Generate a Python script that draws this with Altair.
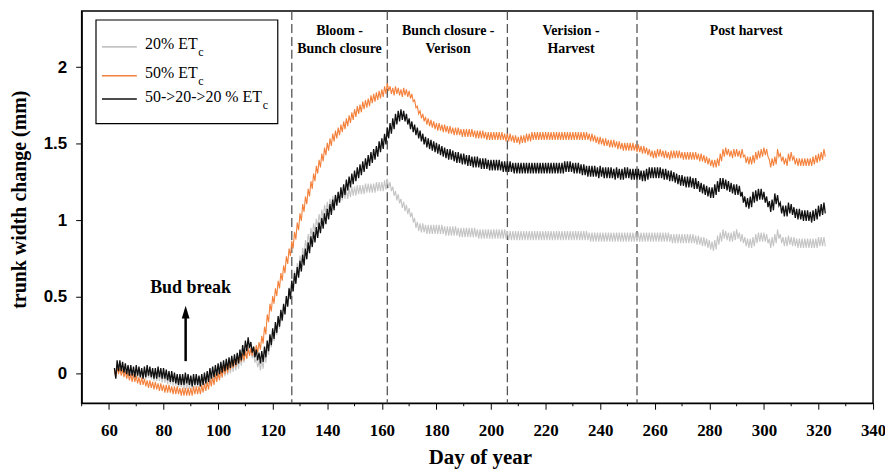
import altair as alt
import pandas as pd

# ---------------- data ----------------
days = list(range(62, 323))  # day of year, one daily mean per day

# 20% ETc (grey)
et20 = [
    0.00, 0.03, 0.03, 0.02, 0.01, 0.01, 0.00, 0.00, 0.00, 0.00,
    -0.01, -0.01, 0.00, -0.01, -0.02, -0.02, -0.02, -0.03, -0.03, -0.04,
    -0.04, -0.05, -0.05, -0.06, -0.06, -0.07, -0.07, -0.07, -0.07, -0.06,
    -0.06, -0.06, -0.05, -0.05, -0.04, -0.03, -0.02, -0.01, 0.00, 0.00,
    0.01, 0.02, 0.03, 0.04, 0.05, 0.06, 0.08, 0.10, 0.13, 0.16,
    0.13, 0.10, 0.07, 0.05, 0.06, 0.10, 0.15, 0.20, 0.24, 0.28,
    0.32, 0.37, 0.42, 0.47, 0.53, 0.58, 0.64, 0.69, 0.74, 0.79,
    0.84, 0.88, 0.92, 0.95, 0.98, 1.01, 1.04, 1.07, 1.09, 1.11,
    1.13, 1.14, 1.15, 1.16, 1.17, 1.17, 1.18, 1.19, 1.19, 1.20,
    1.20, 1.20, 1.21, 1.21, 1.21, 1.21, 1.22, 1.22, 1.22, 1.23,
    1.24, 1.22, 1.19, 1.16, 1.14, 1.11, 1.09, 1.07, 1.05, 1.02,
    0.98, 0.96, 0.95, 0.95, 0.94, 0.94, 0.94, 0.94, 0.94, 0.94,
    0.94, 0.93, 0.93, 0.93, 0.93, 0.93, 0.92, 0.92, 0.92, 0.92,
    0.92, 0.92, 0.92, 0.91, 0.91, 0.91, 0.91, 0.91, 0.91, 0.91,
    0.91, 0.91, 0.91, 0.91, 0.90, 0.90, 0.90, 0.90, 0.90, 0.90,
    0.90, 0.90, 0.90, 0.90, 0.90, 0.90, 0.90, 0.90, 0.90, 0.90,
    0.90, 0.90, 0.90, 0.90, 0.90, 0.90, 0.90, 0.90, 0.90, 0.90,
    0.90, 0.90, 0.90, 0.90, 0.89, 0.89, 0.89, 0.89, 0.89, 0.89,
    0.89, 0.89, 0.89, 0.89, 0.89, 0.89, 0.89, 0.89, 0.89, 0.89,
    0.89, 0.89, 0.89, 0.89, 0.89, 0.89, 0.89, 0.89, 0.89, 0.89,
    0.89, 0.89, 0.89, 0.89, 0.88, 0.88, 0.88, 0.88, 0.88, 0.88,
    0.88, 0.88, 0.88, 0.87, 0.87, 0.86, 0.86, 0.85, 0.84, 0.83,
    0.84, 0.87, 0.89, 0.91, 0.90, 0.89, 0.89, 0.90, 0.91, 0.89,
    0.88, 0.86, 0.85, 0.85, 0.86, 0.88, 0.89, 0.89, 0.89, 0.88,
    0.85, 0.86, 0.88, 0.91, 0.88, 0.86, 0.86, 0.87, 0.86, 0.86,
    0.85, 0.85, 0.85, 0.85, 0.85, 0.85, 0.85, 0.85, 0.86, 0.86,
    0.86,
]

# 50% ETc (orange)
et50 = [
    0.00, 0.02, 0.01, 0.00, -0.01, -0.02, -0.03, -0.03, -0.04, -0.05,
    -0.05, -0.06, -0.07, -0.07, -0.08, -0.08, -0.09, -0.09, -0.10, -0.10,
    -0.10, -0.11, -0.11, -0.11, -0.12, -0.12, -0.12, -0.12, -0.12, -0.11,
    -0.11, -0.11, -0.10, -0.09, -0.08, -0.06, -0.05, -0.03, -0.02, 0.00,
    0.02, 0.03, 0.05, 0.06, 0.07, 0.09, 0.10, 0.11, 0.12, 0.14,
    0.14, 0.15, 0.16, 0.18, 0.22, 0.28, 0.36, 0.43, 0.48, 0.53,
    0.58, 0.63, 0.68, 0.74, 0.79, 0.84, 0.90, 0.96, 1.02, 1.08,
    1.13, 1.18, 1.23, 1.28, 1.33, 1.37, 1.41, 1.45, 1.48, 1.51,
    1.54, 1.56, 1.58, 1.60, 1.62, 1.64, 1.66, 1.68, 1.70, 1.72,
    1.73, 1.75, 1.76, 1.77, 1.79, 1.80, 1.81, 1.82, 1.83, 1.85,
    1.87, 1.85, 1.84, 1.85, 1.84, 1.83, 1.84, 1.83, 1.82, 1.80,
    1.76, 1.72, 1.69, 1.67, 1.65, 1.64, 1.63, 1.62, 1.61, 1.61,
    1.60, 1.60, 1.59, 1.59, 1.58, 1.58, 1.58, 1.57, 1.57, 1.57,
    1.57, 1.57, 1.56, 1.56, 1.56, 1.56, 1.55, 1.55, 1.55, 1.55,
    1.55, 1.55, 1.55, 1.54, 1.54, 1.54, 1.53, 1.53, 1.52, 1.53,
    1.53, 1.54, 1.54, 1.55, 1.55, 1.55, 1.55, 1.55, 1.55, 1.55,
    1.55, 1.55, 1.55, 1.55, 1.55, 1.55, 1.55, 1.55, 1.55, 1.55,
    1.55, 1.55, 1.55, 1.55, 1.54, 1.54, 1.53, 1.52, 1.52, 1.51,
    1.51, 1.50, 1.50, 1.50, 1.49, 1.49, 1.48, 1.48, 1.48, 1.48,
    1.48, 1.47, 1.47, 1.46, 1.46, 1.45, 1.44, 1.43, 1.43, 1.44,
    1.44, 1.43, 1.43, 1.42, 1.43, 1.43, 1.43, 1.43, 1.42, 1.42,
    1.42, 1.42, 1.42, 1.42, 1.41, 1.41, 1.40, 1.39, 1.38, 1.37,
    1.37, 1.38, 1.41, 1.44, 1.45, 1.44, 1.43, 1.44, 1.44, 1.43,
    1.44, 1.40, 1.39, 1.39, 1.40, 1.42, 1.43, 1.44, 1.45, 1.44,
    1.37, 1.38, 1.39, 1.44, 1.41, 1.39, 1.38, 1.41, 1.42, 1.39,
    1.38, 1.38, 1.38, 1.38, 1.38, 1.38, 1.39, 1.40, 1.41, 1.42,
    1.44,
]

# 50->20->20 % ETc (black)
et_seq = [
    0.00, 0.05, 0.05, 0.04, 0.03, 0.02, 0.02, 0.01, 0.02, 0.01,
    0.00, 0.01, 0.02, 0.01, 0.00, 0.00, 0.01, 0.00, 0.00, -0.01,
    -0.02, -0.02, -0.03, -0.04, -0.04, -0.04, -0.03, -0.04, -0.05, -0.04,
    -0.04, -0.05, -0.04, -0.03, -0.02, 0.00, 0.01, 0.02, 0.03, 0.04,
    0.05, 0.06, 0.07, 0.08, 0.09, 0.10, 0.12, 0.15, 0.18, 0.20,
    0.17, 0.14, 0.12, 0.10, 0.11, 0.14, 0.18, 0.22, 0.26, 0.30,
    0.34, 0.38, 0.42, 0.47, 0.52, 0.57, 0.62, 0.66, 0.70, 0.74,
    0.78, 0.82, 0.86, 0.89, 0.92, 0.95, 0.98, 1.01, 1.04, 1.07,
    1.10, 1.13, 1.15, 1.18, 1.20, 1.23, 1.25, 1.27, 1.29, 1.31,
    1.33, 1.35, 1.37, 1.39, 1.41, 1.43, 1.45, 1.48, 1.50, 1.53,
    1.57, 1.60, 1.63, 1.66, 1.68, 1.69, 1.68, 1.66, 1.63, 1.61,
    1.59, 1.57, 1.55, 1.53, 1.51, 1.50, 1.49, 1.48, 1.47, 1.46,
    1.45, 1.44, 1.43, 1.43, 1.42, 1.41, 1.41, 1.40, 1.40, 1.39,
    1.39, 1.38, 1.38, 1.38, 1.37, 1.37, 1.37, 1.36, 1.36, 1.36,
    1.36, 1.36, 1.35, 1.35, 1.35, 1.35, 1.34, 1.34, 1.34, 1.34,
    1.34, 1.34, 1.34, 1.34, 1.34, 1.34, 1.34, 1.34, 1.34, 1.34,
    1.34, 1.34, 1.34, 1.34, 1.34, 1.35, 1.35, 1.35, 1.34, 1.34,
    1.34, 1.33, 1.33, 1.32, 1.32, 1.32, 1.32, 1.31, 1.32, 1.31,
    1.31, 1.31, 1.31, 1.30, 1.31, 1.30, 1.30, 1.31, 1.31, 1.30,
    1.30, 1.30, 1.30, 1.29, 1.29, 1.30, 1.31, 1.31, 1.31, 1.31,
    1.31, 1.30, 1.30, 1.29, 1.29, 1.28, 1.27, 1.26, 1.26, 1.25,
    1.25, 1.25, 1.24, 1.24, 1.22, 1.21, 1.20, 1.19, 1.18, 1.18,
    1.20, 1.22, 1.24, 1.24, 1.23, 1.22, 1.21, 1.20, 1.20, 1.19,
    1.15, 1.12, 1.11, 1.12, 1.15, 1.16, 1.17, 1.17, 1.15, 1.12,
    1.09, 1.10, 1.14, 1.13, 1.08, 1.06, 1.06, 1.08, 1.07, 1.05,
    1.04, 1.04, 1.03, 1.03, 1.03, 1.02, 1.03, 1.04, 1.06, 1.07,
    1.08,
]

series_names = ["20% ETc", "50% ETc", "50->20->20 % ETc"]
series_values = [et20, et50, et_seq]
# half-width of the daily (day/night) swing seen in each band
diurnal_swing = [0.03, 0.025, 0.035]
series_colors = ["#c4c4c4", "#f4813b", "#111111"]
series_widths = [1.1, 1.1, 1.3]

phase_days = [127, 162, 206, 253.5]
phase_label_days = [144.5, 184.3, 229.3, 293.5]
phase_labels = ["Bloom -\nBunch closure", "Bunch closure -\nVerison",
                "Verision -\nHarvest", "Post harvest"]

x_tick_values = list(range(60, 341, 20))
x_minor_ticks = list(range(50, 341, 20))
y_tick_values = [0, 0.5, 1, 1.5, 2]

bud_break_day = 88.1
bud_arrow_from, bud_arrow_to = 0.08, 0.40
bud_text_day, bud_text_v = 89.9, 0.56

for vals in series_values:
    assert len(vals) == len(days)

# ---------------- build tables ----------------
rows = []
for name, vals, sw in zip(series_names, series_values, diurnal_swing):
    for d, v in zip(days, vals):
        rows.append({"series": name, "day": d, "v": round(v + sw, 4)})
        rows.append({"series": name, "day": d + 0.5, "v": round(v - sw, 4)})
lines_df = pd.DataFrame(rows)

SERIF = "Liberation Serif"
SANS = "Liberation Sans"

W, H = 795, 394
x_scale = alt.Scale(domain=[50, 340], nice=False, zero=False)
y_scale = alt.Scale(domain=[-0.195, 2.366], nice=False, zero=False)

X = alt.X("day:Q", scale=x_scale, axis=alt.Axis(
    values=x_tick_values, title="Day of year", grid=False,
    tickSize=6, tickColor="black", domainColor="black", domainWidth=1.2,
    labelFont=SERIF, labelFontWeight="bold", labelFontSize=17, labelColor="black",
    labelPadding=13, labelFlush=False, labelOverlap=False,
    titleFont=SERIF, titleFontWeight="bold", titleFontSize=21, titleColor="black",
    titleX=400, titleY=44, titleBaseline="top"))
Y = alt.Y("v:Q", scale=y_scale, axis=alt.Axis(
    values=y_tick_values, format="~g", title="trunk width change (mm)", grid=False,
    tickSize=6, tickColor="black", domainColor="black", domainWidth=1.2,
    labelFont=SANS, labelFontWeight="bold", labelFontSize=17, labelColor="black",
    labelPadding=9,
    titleFont=SERIF, titleFontWeight="bold", titleFontSize=20, titleColor="black",
    titleX=-52, titleY=189, titleBaseline="bottom"))

layers = []

# dashed phase boundaries
layers.append(
    alt.Chart(pd.DataFrame({"day": phase_days}))
    .mark_rule(color="#555555", strokeDash=[9, 4], strokeWidth=1.3)
    .encode(x=X)
)

# minor x ticks
layers.append(
    alt.Chart(pd.DataFrame({"day": x_minor_ticks}))
    .mark_rule(color="black", strokeWidth=1)
    .encode(x=X, y=alt.value(H), y2=alt.value(H + 3))
)

# the three series
for name, col, wdt in zip(series_names, series_colors, series_widths):
    layers.append(
        alt.Chart(lines_df[lines_df.series == name])
        .mark_line(color=col, strokeWidth=wdt)
        .encode(x=X, y=Y, order="day:Q")
    )

# phase labels
layers.append(
    alt.Chart(pd.DataFrame({"day": phase_label_days, "label": phase_labels}))
    .mark_text(font=SERIF, fontWeight="bold", fontSize=14, color="black",
               baseline="top", align="center", lineBreak="\n", lineHeight=18.5)
    .encode(x=X, y=alt.value(13), text="label:N")
)

# bud break annotation
layers.append(
    alt.Chart(pd.DataFrame({"day": [bud_break_day], "v": [bud_arrow_from], "v2": [bud_arrow_to]}))
    .mark_rule(color="black", strokeWidth=2.5)
    .encode(x=X, y=Y, y2="v2:Q")
)
layers.append(
    alt.Chart(pd.DataFrame({"day": [bud_break_day], "v": [bud_arrow_to]}))
    .mark_point(shape="M0,-1 L0.6,1 L-0.6,1 Z", size=169, filled=True,
                color="black", opacity=1, strokeWidth=0)
    .encode(x=X, y=Y)
)
layers.append(
    alt.Chart(pd.DataFrame({"day": [bud_text_day], "v": [bud_text_v], "t": ["Bud break"]}))
    .mark_text(font=SERIF, fontWeight="bold", fontSize=18, color="black",
               align="center", baseline="middle")
    .encode(x=X, y=Y, text="t:N")
)

# legend (drawn by hand to get the subscript c)
one = pd.DataFrame({"k": [0]})
layers.append(
    alt.Chart(one).mark_rect(fill="white", stroke="black", strokeWidth=1.2)
    .encode(x=alt.value(14.4), x2=alt.value(197), y=alt.value(9), y2=alt.value(113))
)
legend_line_y = [36, 65, 88.3]
legend_text_y = [33, 62, 86.5]
legend_main = ["20% ET", "50% ET", "50->20->20 % ET"]
legend_sub_x = [117, 117, 182]
for i in range(3):
    layers.append(
        alt.Chart(one).mark_rule(color=series_colors[i], strokeWidth=1.6)
        .encode(x=alt.value(20.4), x2=alt.value(55.4), y=alt.value(legend_line_y[i]))
    )
    layers.append(
        alt.Chart(one).mark_text(font=SERIF, fontSize=16, color="black",
                                 align="left", baseline="middle", text=legend_main[i])
        .encode(x=alt.value(63.7), y=alt.value(legend_text_y[i]))
    )
    layers.append(
        alt.Chart(one).mark_text(font=SERIF, fontSize=12, color="black",
                                 align="left", baseline="middle", text="c")
        .encode(x=alt.value(legend_sub_x[i]), y=alt.value(legend_text_y[i] + 8))
    )

chart = (
    alt.layer(*layers)
    .properties(width=W, height=H,
                autosize=alt.AutoSizeParams(type="none"),
                padding={"left": 74, "top": 2, "right": 12, "bottom": 70},
                background="white")
    .configure_view(stroke="black", strokeWidth=1.5)
)

chart.save("out.html", embed_options={"renderer": "svg", "actions": False})
